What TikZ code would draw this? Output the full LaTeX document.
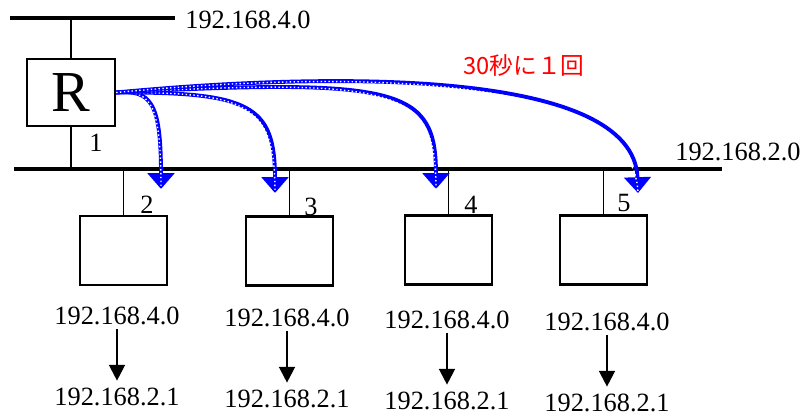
\documentclass[tikz,border=0pt]{standalone}
\usepackage{fontspec}
\setmainfont{Liberation Serif}
\newfontfamily\jpfont{Noto Sans CJK JP}
\usetikzlibrary{arrows.meta,positioning}

\tikzset{
  bus/.style={line width=2.4pt},
  tap/.style={line width=0.8pt},
  hostbox/.style={draw, line width=1.3pt, minimum width=1.74cm, minimum height=1.38cm, inner sep=0pt},
  addr/.style={font=\fontsize{15}{18}\selectfont, inner sep=0pt},
  ripmsg/.style={draw=blue, line width=2.2pt, -{Triangle[width=15pt,length=9pt]},
    postaction={draw=white, line width=0.8pt, dash pattern=on 0.8pt off 1.4pt, -}},
  down/.style={line width=1.3pt, -{Triangle[width=9pt,length=9pt]}}
}

\begin{document}
\begin{tikzpicture}[x=0.02cm,y=-0.02cm]
			%%%%% START %%%%%
			\useasboundingbox (0,0) rectangle (805,419);
			
			% networks
			\coordinate (topL) at (10,18);
			\coordinate (topR) at (175,18);
			\coordinate (botL) at (14,169);
			\coordinate (botR) at (722,169);
			\draw[bus] (topL) -- (topR);
			\draw[bus] (botL) -- (botR);
			\node[addr, anchor=west] (net4) at (185,20) {192.168.4.0};
			\node[addr, anchor=west] (net2) at (675,152) {192.168.2.0};
			
			% router
			\node[draw, line width=1.3pt, minimum width=1.76cm, minimum height=1.34cm, inner sep=0pt, font=\fontsize{33}{36}\selectfont] (router) at (71,92.5) {R};
			\draw[tap] (router.north) -- (router.north |- topL);
			\draw[tap] (router.south) -- (router.south |- botL);
			\node[addr] (p1) at (96,143) {1};
			
			% hosts
			\node[hostbox] (h2) at (123.5,250.5) {};
			\node[hostbox] (h3) at (289.5,251) {};
			\node[hostbox] (h4) at (448.5,250) {};
			\node[hostbox] (h5) at (603.5,250) {};
			\draw[tap] (h2.north) -- (h2.north |- botL);
			\draw[tap] (h3.north) -- (h3.north |- botL);
			\draw[tap] (h4.north) -- (h4.north |- botL);
			\draw[tap] (h5.north) -- (h5.north |- botL);
			\node[addr] (p2) at (147,205) {2};
			\node[addr] (p3) at (311,207) {3};
			\node[addr] (p4) at (471,205) {4};
			\node[addr] (p5) at (624,203) {5};
			
			% routing tables
			\node[addr] (a2) at (117,316) {192.168.4.0};
			\node[addr] (b2) at (117,397) {192.168.2.1};
			\node[addr] (a3) at (287,318) {192.168.4.0};
			\node[addr] (b3) at (287,399) {192.168.2.1};
			\node[addr] (a4) at (447,320) {192.168.4.0};
			\node[addr] (b4) at (447,401) {192.168.2.1};
			\node[addr] (a5) at (607,322) {192.168.4.0};
			\node[addr] (b5) at (607,403) {192.168.2.1};
			\draw[down, shorten <=2pt, shorten >=4pt] (a2) -- (b2);
			\draw[down, shorten <=2pt, shorten >=4pt] (a3) -- (b3);
			\draw[down, shorten <=2pt, shorten >=4pt] (a4) -- (b4);
			\draw[down, shorten <=2pt, shorten >=4pt] (a5) -- (b5);
			
			% updates
			\coordinate (m2) at (161,189);
			\coordinate (m3) at (275,193);
			\coordinate (m4) at (436,189);
			\coordinate (m5) at (638,193);
			\draw[ripmsg] (router.east) .. controls (150,90) and (161,100) .. (m2);
			\draw[ripmsg] (router.east) .. controls (250,92) and (275,105) .. (m3);
			\draw[ripmsg] (router.east) .. controls (400,78) and (436,88) .. (m4);
			\draw[ripmsg] (router.east) .. controls (330,72) and (634,68) .. (m5);
			\node[font=\jpfont\fontsize{13.5}{16}\selectfont, text=red, inner sep=0pt] (period) at (524,65) {30秒に１回};
			%%%%% END %%%%%
\end{tikzpicture}
\end{document}
